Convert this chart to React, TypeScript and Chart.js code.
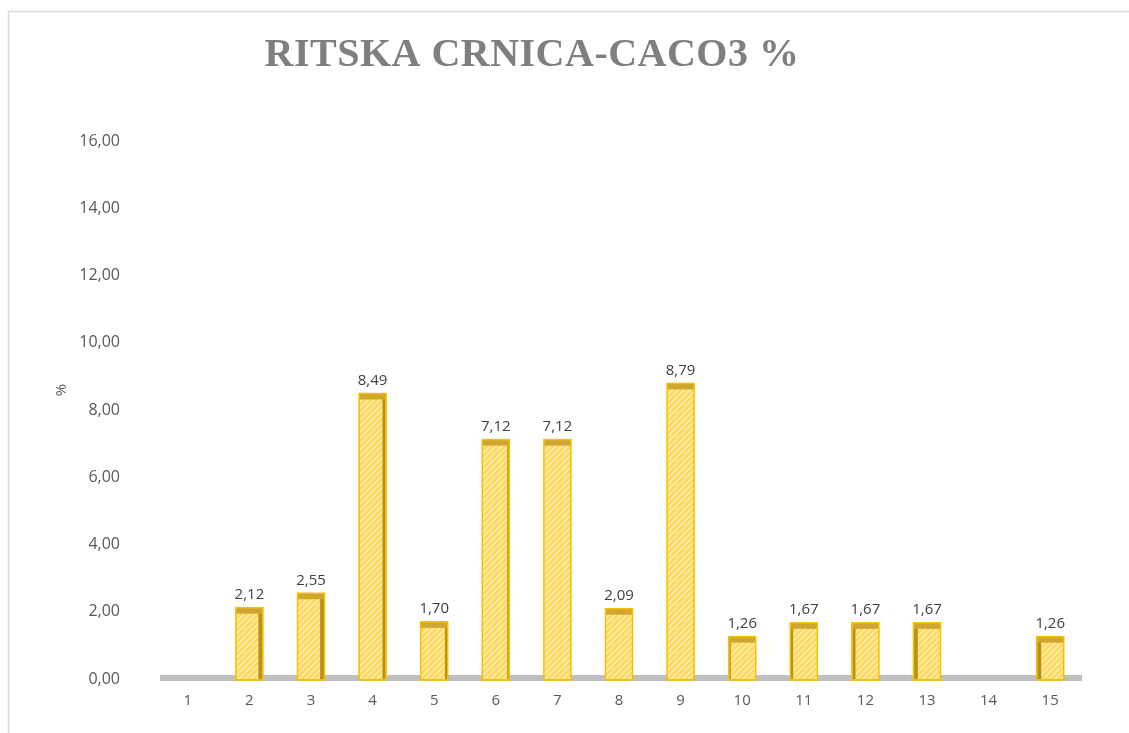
import React, { useEffect, useRef } from "react";
import { Chart, registerables } from "chart.js";

Chart.register(...registerables);

const categories = ["1", "2", "3", "4", "5", "6", "7", "8", "9", "10", "11", "12", "13", "14", "15"];
const values: (number | null)[] = [null, 2.12, 2.55, 8.49, 1.7, 7.12, 7.12, 2.09, 8.79, 1.26, 1.67, 1.67, 1.67, null, 1.26];
const yTickValues = [0, 2, 4, 6, 8, 10, 12, 14, 16];
const chartTitle = "RITSKA CRNICA-CACO3 %";
const yAxisTitle = "%";

const fmt = (v: number) => v.toFixed(2).replace(".", ",");

function makePattern(ctx: CanvasRenderingContext2D): CanvasPattern | string {
  const c = document.createElement("canvas");
  c.width = 6;
  c.height = 6;
  const p = c.getContext("2d");
  if (!p) return "#ffdd70";
  p.fillStyle = "#ffd95c";
  p.fillRect(0, 0, 6, 6);
  p.strokeStyle = "#fff1bf";
  p.lineWidth = 1.4;
  p.beginPath();
  p.moveTo(0, 6);
  p.lineTo(6, 0);
  p.moveTo(-3, 3);
  p.lineTo(3, -3);
  p.moveTo(3, 9);
  p.lineTo(9, 3);
  p.stroke();
  return ctx.createPattern(c, "repeat") || "#ffdd70";
}

const decorPlugin = {
  id: "decor",
  beforeDraw(chart: any) {
    const ctx = chart.ctx as CanvasRenderingContext2D;
    ctx.save();
    ctx.fillStyle = "#ffffff";
    ctx.fillRect(0, 0, chart.width, chart.height);
    ctx.strokeStyle = "#d9d9d9";
    ctx.lineWidth = 1.5;
    ctx.beginPath();
    ctx.moveTo(8.5, chart.height);
    ctx.lineTo(8.5, 11.5);
    ctx.lineTo(chart.width, 11.5);
    ctx.stroke();
    // title
    ctx.fillStyle = "#7f7f7f";
    ctx.font = "bold 40px 'Liberation Serif', 'Times New Roman', serif";
    ctx.textAlign = "center";
    ctx.textBaseline = "middle";
    try {
      (ctx as any).letterSpacing = "0.5px";
    } catch (e) {}
    ctx.fillText(chartTitle, 532, 56);
    try {
      (ctx as any).letterSpacing = "0px";
    } catch (e) {}
    // y axis title
    ctx.save();
    ctx.translate(62, 390);
    ctx.rotate(-Math.PI / 2);
    ctx.font = "15px 'Open Sans', sans-serif";
    ctx.fillStyle = "#595959";
    ctx.fillText(yAxisTitle, 0, 0);
    ctx.restore();
    ctx.restore();
  },
  beforeDatasetsDraw(chart: any) {
    const ctx = chart.ctx as CanvasRenderingContext2D;
    const area = chart.chartArea;
    const y0 = chart.scales.y.getPixelForValue(0);
    ctx.save();
    ctx.fillStyle = "#bfbfbf";
    ctx.fillRect(area.left + 3, y0 - 4, area.right - area.left - 2, 6);
    ctx.restore();
  },
  afterDatasetsDraw(chart: any) {
    const ctx = chart.ctx as CanvasRenderingContext2D;
    const meta = chart.getDatasetMeta(0);
    const area = chart.chartArea;
    const cx = (area.left + area.right) / 2;
    ctx.save();
    meta.data.forEach((bar: any, i: number) => {
      const v = values[i];
      if (v === null || v === undefined) return;
      const { x, y, width, base } = bar.getProps(["x", "y", "width", "base"], true);
      const left = x - width / 2;
      const right = x + width / 2;
      const depth = Math.min(4, Math.abs(x - cx) / 80);
      // side face
      ctx.fillStyle = "#b8901a";
      if (depth > 0.8) {
        if (x < cx) ctx.fillRect(right - depth - 0.5, y + 1, depth, base - y - 1);
        else ctx.fillRect(left + 0.5, y + 1, depth, base - y - 1);
      }
      // top face
      ctx.fillStyle = "#cfa534";
      ctx.fillRect(left, y, width, 6);
      // outline
      ctx.strokeStyle = "#f5c000";
      ctx.lineWidth = 1.5;
      ctx.strokeRect(left, y, width, base - y + 1);
      // value label
      ctx.fillStyle = "#404040";
      ctx.font = "15px 'Open Sans', sans-serif";
      ctx.textAlign = "center";
      ctx.textBaseline = "middle";
      ctx.fillText(fmt(v), x, y - 13);
    });
    ctx.restore();
  },
};

export default function App() {
  const ref = useRef<HTMLCanvasElement | null>(null);
  useEffect(() => {
    const canvas = ref.current;
    if (!canvas) return;
    const ctx = canvas.getContext("2d");
    if (!ctx) return;
    const pattern = makePattern(ctx);
    const chart = new Chart(canvas, {
      type: "bar",
      data: {
        labels: categories,
        datasets: [
          {
            data: values as any,
            backgroundColor: pattern as any,
            borderColor: "#f5c000",
            borderWidth: 0,
            barThickness: 27,
          },
        ],
      },
      options: {
        responsive: false,
        animation: false,
        layout: { padding: { top: 141, right: 48, left: 0, bottom: 0 } },
        plugins: {
          legend: { display: false },
          tooltip: { enabled: false },
          title: { display: false },
        },
        scales: {
          x: {
            grid: { display: false, drawTicks: false },
            border: { display: false },
            ticks: {
              color: "#595959",
              font: { family: "'Open Sans', sans-serif", size: 15 },
              padding: 13,
              maxRotation: 0,
            },
            afterFit(scale: any) {
              scale.height = 54;
            },
          },
          y: {
            min: 0,
            max: 16,
            grid: { display: false, drawTicks: false },
            border: { display: false },
            afterBuildTicks(scale: any) {
              scale.ticks = yTickValues.map((v) => ({ value: v }));
            },
            ticks: {
              color: "#595959",
              font: { family: "'Open Sans', sans-serif", size: 16 },
              padding: 37,
              callback: (v: any) => fmt(Number(v)),
            },
            afterFit(scale: any) {
              scale.width = 157;
            },
          },
        },
      },
      plugins: [decorPlugin],
    });
    return () => chart.destroy();
  }, []);
  return (
    <div style={{ position: "absolute", left: 0, top: 0, width: 1129, height: 733 }}>
      <canvas ref={ref} width={1129} height={733} style={{ display: "block" }} />
    </div>
  );
}
